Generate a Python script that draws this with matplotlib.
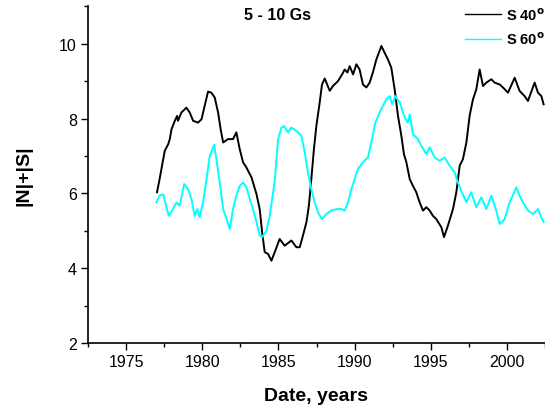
import matplotlib
matplotlib.use('Agg')
import matplotlib.pyplot as plt
from matplotlib.ticker import MultipleLocator

plt.rcParams['font.family']=['Liberation Sans','DejaVu Sans']

# S 40 degrees (black)
s40_year=[1977.03,1977.2,1977.36,1977.54,1977.76,1977.87,1977.98,1978.2,1978.35,1978.41,
          1978.63,1978.96,1979.18,1979.4,1979.72,1979.95,1980.16,1980.38,1980.6,1980.82,
          1981.04,1981.21,1981.37,1981.69,1982.02,1982.24,1982.46,1982.68,1982.9,1983.23,
          1983.56,1983.77,1983.93,1984.1,1984.32,1984.54,1984.76,1985.08,1985.41,1985.85,
          1986.18,1986.4,1986.61,1986.84,1987.0,1987.16,1987.33,1987.49,1987.71,1987.86,
          1988.04,1988.37,1988.58,1988.91,1989.18,1989.35,1989.53,1989.68,1989.9,1990.12,
          1990.33,1990.55,1990.77,1990.99,1991.2,1991.43,1991.76,1991.97,1992.19,1992.41,
          1992.63,1992.85,1993.07,1993.24,1993.4,1993.62,1993.83,1994.05,1994.27,1994.49,
          1994.71,1994.93,1995.14,1995.37,1995.7,1995.87,1996.13,1996.46,1996.68,1996.9,
          1997.11,1997.34,1997.55,1997.77,1997.99,1998.21,1998.43,1998.65,1998.98,1999.19,
          1999.52,1999.74,2000.07,2000.51,2000.83,2001.16,2001.38,2001.82,2002.04,2002.26,
          2002.41]
s40_val=[6.03,6.38,6.74,7.14,7.31,7.45,7.71,7.94,8.07,7.94,
         8.16,8.29,8.16,7.94,7.89,7.98,8.34,8.72,8.69,8.56,
         8.16,7.71,7.36,7.45,7.45,7.63,7.18,6.83,6.69,6.43,
         5.98,5.58,4.96,4.43,4.38,4.2,4.43,4.78,4.6,4.74,
         4.56,4.56,4.87,5.23,5.67,6.38,7.18,7.8,8.43,8.91,
         9.07,8.74,8.87,9.0,9.18,9.31,9.23,9.4,9.18,9.45,
         9.31,8.91,8.83,8.96,9.23,9.58,9.94,9.76,9.58,9.36,
         8.78,8.07,7.54,7.05,6.83,6.38,6.2,6.03,5.76,5.54,
         5.63,5.54,5.4,5.31,5.09,4.83,5.14,5.58,6.03,6.74,
         6.91,7.36,8.07,8.51,8.78,9.31,8.87,8.96,9.05,8.96,
         8.91,8.83,8.69,9.09,8.74,8.6,8.47,8.96,8.69,8.6,
         8.38]

# S 60 degrees (cyan)
s60_year=[1976.99,1977.21,1977.43,1977.8,1978.08,1978.31,1978.52,1978.81,1979.07,1979.29,
          1979.5,1979.68,1979.83,1980.05,1980.28,1980.49,1980.78,1980.93,1981.15,1981.37,
          1981.59,1981.81,1982.02,1982.24,1982.46,1982.68,1982.9,1983.12,1983.33,1983.56,
          1983.77,1983.93,1984.21,1984.43,1984.65,1984.76,1984.98,1985.2,1985.37,1985.63,
          1985.85,1986.18,1986.51,1986.73,1986.94,1987.16,1987.38,1987.6,1987.86,1988.15,
          1988.48,1988.81,1989.13,1989.35,1989.57,1989.79,1990.0,1990.22,1990.55,1990.88,
          1991.1,1991.36,1991.64,1991.86,1992.08,1992.3,1992.47,1992.67,1992.96,1993.29,
          1993.5,1993.62,1993.83,1994.16,1994.38,1994.71,1994.93,1995.26,1995.58,1995.91,
          1996.24,1996.57,1996.78,1997.0,1997.34,1997.66,1997.99,1998.32,1998.65,1998.98,
          1999.3,1999.52,1999.85,2000.18,2000.62,2000.83,2001.05,2001.38,2001.71,2002.04,
          2002.26,2002.41]
s60_val=[5.76,5.94,5.98,5.4,5.58,5.76,5.67,6.25,6.11,5.85,
         5.4,5.58,5.36,5.76,6.38,7.0,7.3,6.91,6.29,5.58,
         5.31,5.05,5.58,5.94,6.2,6.29,6.16,5.85,5.58,5.23,
         4.87,4.83,5.0,5.4,6.03,6.34,7.45,7.76,7.8,7.63,
         7.76,7.67,7.54,7.09,6.56,6.11,5.76,5.49,5.31,5.45,
         5.54,5.58,5.58,5.54,5.76,6.11,6.38,6.65,6.83,6.96,
         7.36,7.89,8.16,8.34,8.51,8.6,8.38,8.6,8.43,8.03,
         7.89,8.11,7.58,7.45,7.27,7.05,7.23,6.96,6.87,6.96,
         6.74,6.56,6.29,6.07,5.76,6.03,5.63,5.89,5.58,5.94,
         5.54,5.18,5.31,5.76,6.16,5.94,5.76,5.54,5.45,5.58,
         5.36,5.23]

fig=plt.figure(figsize=(5.45,4.1),dpi=100)
ax=fig.add_axes([88/545,66/410,457/545,(344-7.3)/410])

ax.plot(s40_year,s40_val,color='black',lw=1.4,label='S 40$^\\mathbf{o}$')
ax.plot(s60_year,s60_val,color='cyan',lw=1.4,label='S 60$^\\mathbf{o}$')

ax.set_xlim(1972.5,2002.5)
ax.set_ylim(2,11)
ax.xaxis.set_major_locator(MultipleLocator(5))
ax.xaxis.set_minor_locator(MultipleLocator(2.5))
ax.yaxis.set_major_locator(MultipleLocator(2))
ax.yaxis.set_minor_locator(MultipleLocator(1))
ax.tick_params(which='major',direction='out',length=5,width=1,labelsize=11.5,pad=3)
ax.tick_params(which='minor',direction='out',length=3,width=1)

for s in ['top','right']:
    ax.spines[s].set_visible(False)
for s in ['left','bottom']:
    ax.spines[s].set_linewidth(1.2)

ax.set_xlabel('Date, years',fontsize=14,fontweight='bold',labelpad=13)
ax.set_ylabel('|N|+|S|',fontsize=14,fontweight='bold',labelpad=19)

ax.text(278/545,1-15.6/410,'5 - 10 Gs',transform=fig.transFigure,ha='center',va='center',
        fontsize=11.5,fontweight='bold')

leg=ax.legend(loc='upper left',bbox_to_anchor=(465/545,1-7/410),bbox_transform=fig.transFigure,
              frameon=False,borderpad=0,borderaxespad=0,handlelength=2.5,handletextpad=0.34,
              labelspacing=0.55,prop={'weight':'bold','size':10.5})
for line in leg.get_lines():
    line.set_linewidth(1.0)

fig.savefig('out.png',dpi=100)
